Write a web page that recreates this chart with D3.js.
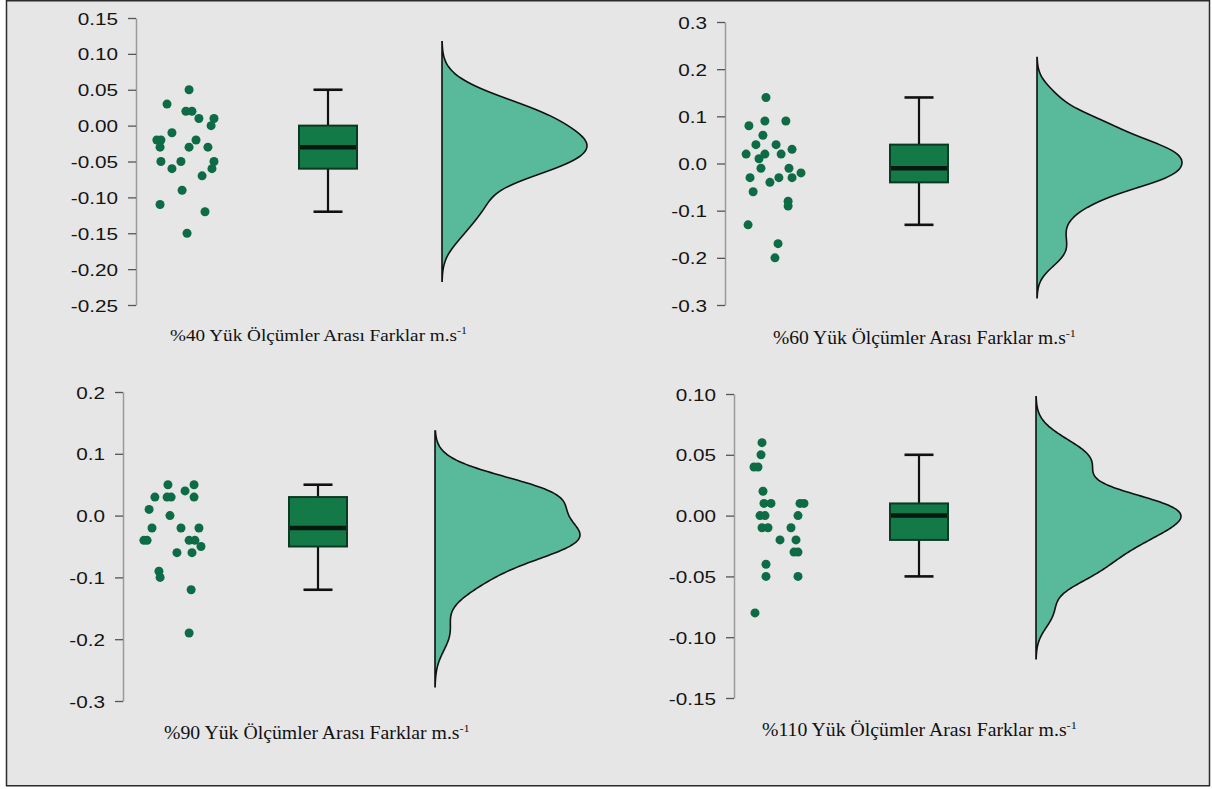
<!DOCTYPE html>
<html>
<head>
<meta charset="utf-8">
<script src="https://cdn.jsdelivr.net/npm/d3@7"></script>
<style>
body { margin: 0; background: #ffffff; }
</style>
</head>
<body>
<div id="chart"></div>
<script>
// yük düzeyleri (panel başlıkları)
var yukler = ['%40', '%60', '%90', '%110'];

// ölçümler arası farklar (m.s-1)
var fark40 = [0.05, 0.03, 0.02, 0.02, 0.01, 0.01, 0.00, -0.01, -0.02, -0.02, -0.02, -0.03, -0.03, -0.03, -0.05, -0.05, -0.05, -0.06, -0.06, -0.07, -0.09, -0.11, -0.12, -0.15];
var fark60 = [0.14, 0.09, 0.09, 0.08, 0.06, 0.04, 0.04, 0.03, 0.02, 0.02, 0.02, 0.01, -0.01, -0.01, -0.02, -0.03, -0.03, -0.03, -0.04, -0.06, -0.08, -0.09, -0.13, -0.17, -0.20];
var fark90 = [0.05, 0.05, 0.04, 0.03, 0.03, 0.03, 0.03, 0.01, 0.00, -0.02, -0.02, -0.02, -0.04, -0.04, -0.04, -0.04, -0.05, -0.06, -0.06, -0.09, -0.10, -0.12, -0.19];
var fark110 = [0.06, 0.05, 0.04, 0.04, 0.02, 0.01, 0.01, 0.01, 0.01, 0.00, 0.00, 0.00, -0.01, -0.01, -0.01, -0.02, -0.02, -0.03, -0.03, -0.04, -0.05, -0.05, -0.08];

// noktaların yatay saçılımı (-1..1)
var sacilim40 = [0.14, -0.62, 0.03, 0.24, 0.48, 1.0, 0.9, -0.45, -0.97, -0.83, 0.38, -0.86, 0.14, 0.79, -0.83, -0.14, 1.0, -0.45, 0.93, 0.59, -0.1, -0.86, 0.69, 0.07];
var sacilim60 = [-0.25, -0.29, 0.46, -0.86, -0.36, -0.61, 0.11, 0.68, -0.96, -0.29, 0.29, -0.5, -0.43, 0.57, 1.0, -0.82, 0.21, 0.68, -0.11, -0.71, 0.54, 0.54, -0.89, 0.18, 0.07];
var sacilim90 = [-0.14, 0.76, 0.45, -0.59, -0.17, -0.03, 0.76, -0.79, -0.07, -0.69, 0.31, 0.93, -0.97, -0.86, 0.59, 0.79, 1.0, 0.17, 0.69, -0.45, -0.41, 0.66, 0.59];
var sacilim110 = [-0.68, -0.72, -1.0, -0.84, -0.64, -0.6, -0.32, 0.84, 1.0, -0.76, -0.56, 0.76, -0.68, -0.44, 0.48, 0.04, 0.68, 0.6, 0.76, -0.52, -0.52, 0.76, -0.96];

// kutu: alt bıyık, Q1, medyan, Q3, üst bıyık
var kutu40 = [-0.12, -0.06, -0.03, 0.00, 0.05];
var kutu60 = [-0.13, -0.04, -0.01, 0.04, 0.14];
var kutu90 = [-0.12, -0.05, -0.02, 0.03, 0.05];
var kutu110 = [-0.05, -0.02, 0.00, 0.01, 0.05];

// eksen etiketleri
var tik40 = [-0.25, -0.20, -0.15, -0.10, -0.05, 0.00, 0.05, 0.10, 0.15];
var tik60 = [-0.3, -0.2, -0.1, 0.0, 0.1, 0.2, 0.3];
var tik90 = [-0.3, -0.2, -0.1, 0.0, 0.1, 0.2];
var tik110 = [-0.15, -0.10, -0.05, 0.00, 0.05, 0.10];

var W = 1212, H = 789;
var zemin = "#e6e6e6";
var noktaRenk = "#0d6b45";
var kutuRenk = "#137a47";
var yogunlukRenk = "#58ba9a";

// panel yerleşimi
var paneller = [
    { yuk: yukler[0], d: fark40, j: sacilim40, kutu: kutu40, tik: tik40, fmt: ".2f", eksenX: 136, ust: 18, alt: 305, noktaX: 185, yari: 29, kutuX: 328, yogX: 442, baslikX: 170, baslikY: 341, baslikW: 297, fs: 17.5 },
    { yuk: yukler[1], d: fark60, j: sacilim60, kutu: kutu60, tik: tik60, fmt: ".1f", eksenX: 725, ust: 22, alt: 305, noktaX: 773, yari: 28, kutuX: 919, yogX: 1037, baslikX: 773, baslikY: 344, baslikW: 303, fs: 18 },
    { yuk: yukler[2], d: fark90, j: sacilim90, kutu: kutu90, tik: tik90, fmt: ".1f", eksenX: 123, ust: 392, alt: 701, noktaX: 172, yari: 29, kutuX: 318, yogX: 435, baslikX: 164, baslikY: 739, baslikW: 306, fs: 18 },
    { yuk: yukler[3], d: fark110, j: sacilim110, kutu: kutu110, tik: tik110, fmt: ".2f", eksenX: 734, ust: 394, alt: 698, noktaX: 779, yari: 25, kutuX: 919, yogX: 1036, baslikX: 762, baslikY: 736, baslikW: 315, fs: 18 }
];

const svg = d3.select("#chart")
    .append("svg")
    .attr("width", W)
    .attr("height", H);

svg.append("rect")
    .attr("x", 6.5).attr("y", 0.75)
    .attr("width", 1203).attr("height", 785)
    .attr("fill", zemin)
    .attr("stroke", "#2b2b2b")
    .attr("stroke-width", 1.5);

// R density() gibi: gauss çekirdek, bw.nrd0, uçlarda 3*bw
function yogunluk(veri) {
    var s = veri.slice().sort(d3.ascending);
    var n = s.length;
    var sd = d3.deviation(s);
    var iqr = d3.quantile(s, 0.75) - d3.quantile(s, 0.25);
    var bw = 0.9 * Math.min(sd, iqr / 1.34) * Math.pow(n, -0.2);
    var lo = s[0] - 3 * bw, hi = s[n - 1] + 3 * bw;
    var out = [];
    for (var k = 0; k <= 240; k++) {
        var x = lo + (hi - lo) * k / 240;
        var t = 0;
        for (var i = 0; i < n; i++) {
            var u = (x - s[i]) / bw;
            t += Math.exp(-0.5 * u * u);
        }
        out.push([x, t / (n * bw * Math.sqrt(2 * Math.PI))]);
    }
    return out;
}

function ciz(p) {
    var g = svg.append("g");
    var y = d3.scaleLinear()
        .domain([p.tik[0], p.tik[p.tik.length - 1]])
        .range([p.alt, p.ust]);

    var f = d3.format(p.fmt);
    var eksen = g.append("g")
        .attr("transform", "translate(" + p.eksenX + ",0)")
        .call(d3.axisLeft(y).tickValues(p.tik).tickSize(8).tickSizeOuter(0)
            .tickFormat(function (d) { return f(d).replace("\u2212", "-"); }));
    eksen.select(".domain").attr("stroke", "#9a9a9a").attr("stroke-width", 1.5);
    eksen.selectAll(".tick line").attr("stroke", "#555").attr("stroke-width", 1.3);
    eksen.selectAll(".tick text")
        .attr("font-family", "'Liberation Sans', Arial, sans-serif")
        .attr("font-size", 17)
        .attr("fill", "#141414")
        .attr("x", -18 / 1.22)
        .attr("dy", "0.36em")
        .attr("transform", "scale(1.22,1)");

    // noktalar
    var xj = d3.scaleLinear().domain([-1, 1]).range([p.noktaX - p.yari, p.noktaX + p.yari]);
    g.selectAll("circle.nokta")
        .data(p.d)
        .enter()
        .append("circle")
        .attr("class", "nokta")
        .attr("cx", function (d, i) { return xj(p.j[i]); })
        .attr("cy", function (d) { return y(d); })
        .attr("r", 4.5)
        .attr("fill", noktaRenk);

    // kutu grafiği
    var k = p.kutu;
    var kg = 29, bg = 14.5;
    g.append("line")
        .attr("x1", p.kutuX).attr("x2", p.kutuX)
        .attr("y1", y(k[4])).attr("y2", y(k[0]))
        .attr("stroke", "#111").attr("stroke-width", 2.2);
    [k[0], k[4]].forEach(function (v) {
        g.append("line")
            .attr("x1", p.kutuX - bg).attr("x2", p.kutuX + bg)
            .attr("y1", y(v)).attr("y2", y(v))
            .attr("stroke", "#111").attr("stroke-width", 2.6);
    });
    g.append("rect")
        .attr("x", p.kutuX - kg).attr("y", y(k[3]))
        .attr("width", kg * 2).attr("height", y(k[1]) - y(k[3]))
        .attr("fill", kutuRenk)
        .attr("stroke", "#0b3a22").attr("stroke-width", 2);
    g.append("line")
        .attr("x1", p.kutuX - kg + 1).attr("x2", p.kutuX + kg - 1)
        .attr("y1", y(k[2])).attr("y2", y(k[2]))
        .attr("stroke", "#07190f").attr("stroke-width", 4.5);

    // yoğunluk
    var yog = yogunluk(p.d);
    var xd = d3.scaleLinear().domain([0, d3.max(yog, function (d) { return d[1]; })]).range([p.yogX, p.yogX + 145]);
    var alan = d3.area()
        .y(function (d) { return y(d[0]); })
        .x0(p.yogX)
        .x1(function (d) { return xd(d[1]); })
        .curve(d3.curveBasis);
    g.append("path")
        .datum(yog)
        .attr("d", alan)
        .attr("fill", yogunlukRenk)
        .attr("stroke", "#111")
        .attr("stroke-width", 1.6);

    // başlık
    var t = g.append("text")
        .attr("font-family", "'Liberation Serif', 'Times New Roman', serif")
        .attr("font-size", p.fs)
        .attr("fill", "#111");
    t.append("tspan").text(p.yuk + " Yük Ölçümler Arası Farklar m.s");
    t.append("tspan").text("-1").attr("font-size", p.fs * 0.62).attr("dy", -p.fs * 0.4);
    var w = t.node().getBBox().width;
    t.attr("transform", "translate(" + p.baslikX + "," + p.baslikY + ") scale(" + (p.baslikW / w) + ",1)");
}

paneller.forEach(ciz);
</script>
</body>
</html>
